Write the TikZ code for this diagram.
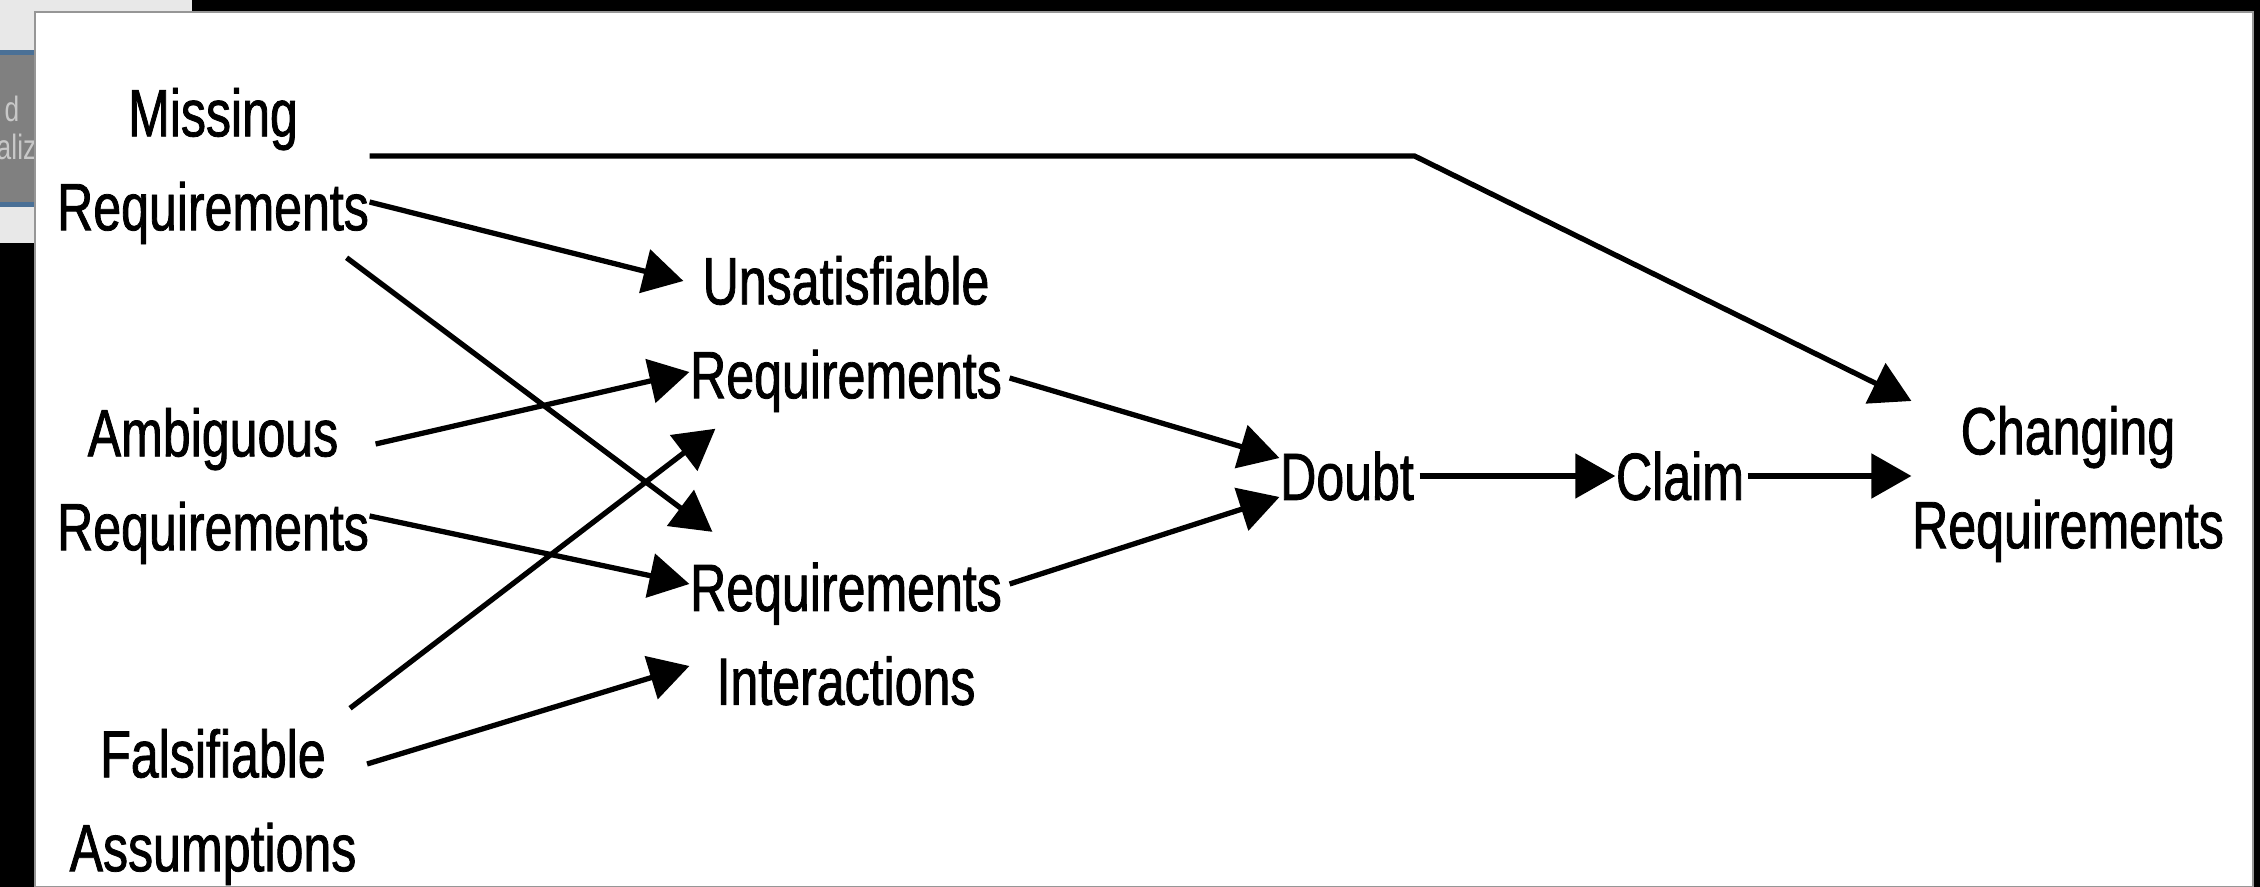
\documentclass[tikz,border=0pt]{standalone}
\usepackage{fontspec}
\setmainfont[FakeStretch=0.75]{Liberation Sans}
\newfontfamily\figfont[FakeStretch=0.75, FakeBold=1.2]{Liberation Sans}
\usepackage{tikz}
\usetikzlibrary{arrows.meta,calc,positioning}
\definecolor{panelgrey}{RGB}{232,232,232}
\definecolor{tabgrey}{RGB}{128,128,128}
\definecolor{tabblue}{RGB}{74,112,150}
\definecolor{tabtext}{RGB}{200,200,200}
\definecolor{frameline}{RGB}{150,150,150}

\begin{document}
\begin{tikzpicture}[>={Triangle[length=0.4cm, width=0.44cm]},
  concept/.style={align=center, inner sep=0pt, font=\figfont\fontsize{19}{26.7}\selectfont},
  flow/.style={->, line width=1.5pt}]
  % Screen behind the figure
  \useasboundingbox (0,0) rectangle (22.6,-8.87);
  \fill[black] (0,0) rectangle (22.6,-8.87);
  \fill[panelgrey] (0,0) rectangle (1.92,-2.43);
  \fill[tabblue] (0,-0.5) rectangle (0.35,-2.07);
  \fill[tabgrey] (0,-0.55) rectangle (0.35,-2.02);
  \begin{scope}
    \clip (0,-0.55) rectangle (0.35,-2.02);
    \node[tabtext, anchor=base east, inner sep=0pt, font=\fontsize{10}{12}\selectfont] (tabtop) at (0.20,-1.22) {d};
    \node[tabtext, anchor=base east, inner sep=0pt, font=\fontsize{10}{12}\selectfont] (tabbot) at (0.37,-1.60) {aliz};
  \end{scope}

  % Figure page
  \filldraw[fill=white, draw=frameline, line width=0.4pt] (0.35,-0.12) rectangle (22.53,-8.87);

  % Sources of doubt
  \node[concept] (miss) at (2.13,-1.66) {Missing\\Requirements};
  \node[concept] (amb) at (2.13,-4.86) {Ambiguous\\Requirements};
  \node[concept] (fals) at (2.13,-8.07) {Falsifiable\\Assumptions};

  % Middle column
  \node[concept] (unsat) at (8.46,-3.34) {Unsatisfiable\\Requirements};
  \node[concept] (inter) at (8.46,-6.34) {Requirements\\Interactions};

  % Chain on the right
  \node[concept] (doubt) at (13.47,-4.76) {Doubt};
  \node[concept] (claim) at (16.80,-4.76) {Claim};
  \node[concept] (chg) at (20.68,-4.84) {Changing\\Requirements};

  % Long run over the top
  \coordinate (toprun) at ([yshift=0.1cm]miss.east);
  \draw[flow] (toprun) -- (toprun -| doubt.east) -- ([yshift=0.83cm]chg.west);

  % Into the middle column
  \draw[flow] ([yshift=-0.36cm]miss.east) -- ([xshift=-0.06cm,yshift=0.53cm]unsat.west);
  \draw[flow] ([xshift=-0.23cm,yshift=-0.13cm]miss.south east) -- ([xshift=0.23cm,yshift=0.3cm]inter.north west);
  \draw[flow] ([xshift=0.06cm,yshift=0.42cm]amb.east) -- ([yshift=-0.38cm]unsat.west);
  \draw[flow] ([yshift=-0.30cm]amb.east) -- ([yshift=0.5cm]inter.west);
  \draw[flow] ([xshift=-0.07cm,yshift=0.2cm]fals.north east) -- ([xshift=0.26cm,yshift=-0.16cm]unsat.south west);
  \draw[flow] ([xshift=0.1cm,yshift=0.43cm]fals.east) -- ([yshift=-0.32cm]inter.west);

  % Towards doubt and on
  \draw[flow] ([xshift=0.07cm,yshift=-0.44cm]unsat.east) -- ([yshift=0.18cm]doubt.west);
  \draw[flow] ([xshift=0.07cm,yshift=0.5cm]inter.east) -- ([yshift=-0.21cm]doubt.west);
  \draw[flow] ([xshift=0.05cm]doubt.east) -- (claim.west);
  \draw[flow] ([xshift=0.03cm]claim.east) -- (claim.east -| chg.west);
\end{tikzpicture}
\end{document}
